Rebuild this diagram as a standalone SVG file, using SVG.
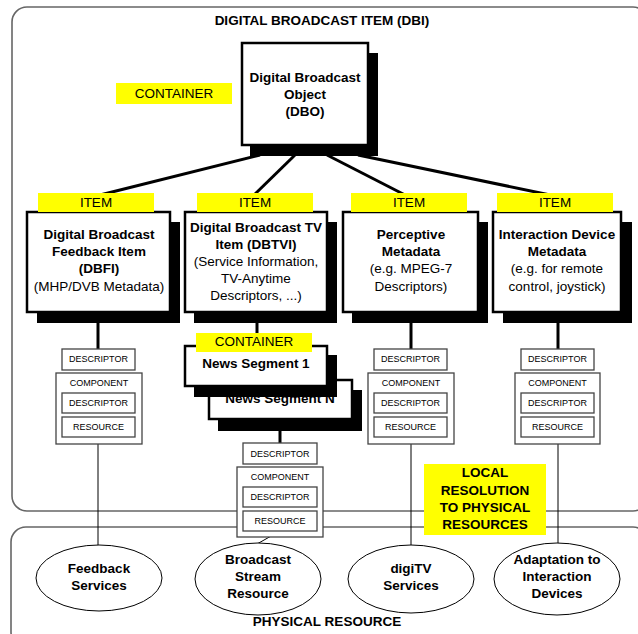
<svg xmlns="http://www.w3.org/2000/svg" width="638" height="634" viewBox="0 0 638 634">
<style>
text{font-family:"Liberation Sans",Arial,sans-serif;fill:#000;text-anchor:middle}
.b{font-weight:bold;font-size:13.5px}
.r{font-size:13.5px}
.s{font-size:9px}
.frame{fill:none;stroke:#666;stroke-width:1.6}
.box{fill:#fff;stroke:#000;stroke-width:2.5}
.sh{fill:#000}
.lab{fill:#ffff00}
.sb{fill:#fff;stroke:#444;stroke-width:1.3}
.ell{fill:#fff;stroke:#000;stroke-width:1}
.thick{stroke:#000;stroke-width:3;fill:none}
.thin{stroke:#000;stroke-width:1;fill:none}
</style>
<rect width="638" height="634" fill="#fff"/>
<g id="dbi-frame">
<rect class="frame" x="12" y="7" width="636" height="504" rx="15"/>
<text class="b" x="322" y="25">DIGITAL BROADCAST ITEM (DBI)</text>
</g>
<g id="physical-frame">
<rect class="frame" x="11" y="527" width="637" height="120" rx="15"/>
<text class="b" x="327" y="626">PHYSICAL RESOURCE</text>
</g>
<g id="connectors">
<line class="thick" x1="260" y1="155" x2="96" y2="196"/>
<line class="thick" x1="295" y1="155" x2="253" y2="196"/>
<line class="thick" x1="327" y1="155" x2="407" y2="196"/>
<line class="thick" x1="358" y1="155" x2="555" y2="196"/>
<line class="thick" x1="98" y1="320" x2="98" y2="350"/>
<line class="thick" x1="257" y1="320" x2="257" y2="335"/>
<line class="thick" x1="411" y1="320" x2="411" y2="350"/>
<line class="thick" x1="558" y1="320" x2="558" y2="350"/>
<line class="thick" x1="280" y1="428" x2="280" y2="444"/>
<line class="thin" x1="98" y1="437" x2="98" y2="546"/>
<line class="thin" x1="411" y1="437" x2="411" y2="546"/>
<line class="thin" x1="558" y1="437" x2="558" y2="544"/>
<line class="thin" x1="280" y1="531" x2="257" y2="544"/>
</g>
<g id="dbo">
<rect class="sh" x="250" y="53" width="128" height="103"/>
<rect class="box" x="242" y="43" width="126" height="102"/>
<text class="b" x="305" y="82">Digital Broadcast</text>
<text class="b" x="305" y="99">Object</text>
<text class="b" x="305" y="116">(DBO)</text>
</g>
<g id="container-label">
<rect class="lab" x="116" y="83" width="116" height="21"/>
<text class="r" x="174" y="98">CONTAINER</text>
</g>
<g id="dbfi">
<rect class="sh" x="37" y="222" width="143" height="101"/>
<rect class="box" x="27" y="212" width="143" height="100"/>
<rect class="lab" x="38" y="193" width="116" height="19"/>
<text class="r" x="96" y="207">ITEM</text>
<text class="b" x="99" y="239">Digital Broadcast</text>
<text class="b" x="99" y="256">Feedback Item</text>
<text class="b" x="99" y="273">(DBFI)</text>
<text class="r" x="99" y="291">(MHP/DVB Metadata)</text>
</g>
<g id="dbtvi">
<rect class="sh" x="194" y="222" width="143" height="101"/>
<rect class="box" x="185" y="212" width="142" height="100"/>
<rect class="lab" x="197" y="193" width="116" height="19"/>
<text class="r" x="255" y="207">ITEM</text>
<text class="b" x="256" y="232">Digital Broadcast TV</text>
<text class="b" x="256" y="249">Item (DBTVI)</text>
<text class="r" x="256" y="266">(Service Information,</text>
<text class="r" x="256" y="283">TV-Anytime</text>
<text class="r" x="256" y="300">Descriptors, ...)</text>
</g>
<g id="perceptive">
<rect class="sh" x="352" y="222" width="136" height="101"/>
<rect class="box" x="343" y="212" width="135" height="100"/>
<rect class="lab" x="351" y="193" width="116" height="19"/>
<text class="r" x="409" y="207">ITEM</text>
<text class="b" x="411" y="239">Perceptive</text>
<text class="b" x="411" y="256">Metadata</text>
<text class="r" x="411" y="273">(e.g. MPEG-7</text>
<text class="r" x="411" y="291">Descriptors)</text>
</g>
<g id="interaction">
<rect class="sh" x="503" y="222" width="129" height="101"/>
<rect class="box" x="493" y="212" width="128" height="100"/>
<rect class="lab" x="497" y="193" width="116" height="19"/>
<text class="r" x="555" y="207">ITEM</text>
<text class="b" x="557" y="239">Interaction Device</text>
<text class="b" x="557" y="256">Metadata</text>
<text class="r" x="557" y="273">(e.g. for remote</text>
<text class="r" x="557" y="291">control, joystick)</text>
</g>
<g id="news-segment-n">
<rect class="sh" x="218" y="390" width="144" height="41"/>
<rect class="box" x="209" y="380" width="143" height="39"/>
<text class="b" x="280" y="403">News Segment N</text>
</g>
<g id="news-segment-1">
<rect class="sh" x="194" y="355" width="143" height="42"/>
<rect class="box" x="185" y="346" width="142" height="40"/>
<text class="b" x="256" y="368">News Segment 1</text>
<rect class="lab" x="196" y="333" width="116" height="19"/>
<text class="r" x="254" y="346">CONTAINER</text>
</g>
<g id="resources-dbfi">
<rect class="sb" x="62" y="349" width="73" height="21"/>
<text class="s" x="98.5" y="362">DESCRIPTOR</text>
<rect class="sb" x="56" y="373" width="86" height="71"/>
<text class="s" x="99" y="386">COMPONENT</text>
<rect class="sb" x="62" y="393" width="73" height="20"/>
<text class="s" x="98.5" y="406">DESCRIPTOR</text>
<rect class="sb" x="62" y="417" width="73" height="20"/>
<text class="s" x="98.5" y="430">RESOURCE</text>
</g>
<g id="resources-news">
<rect class="sb" x="243" y="443" width="74" height="21"/>
<text class="s" x="280" y="457">DESCRIPTOR</text>
<rect class="sb" x="237" y="467" width="86" height="70"/>
<text class="s" x="280" y="480">COMPONENT</text>
<rect class="sb" x="243" y="487" width="74" height="20"/>
<text class="s" x="280" y="500">DESCRIPTOR</text>
<rect class="sb" x="243" y="511" width="74" height="20"/>
<text class="s" x="280" y="524">RESOURCE</text>
</g>
<g id="resources-perceptive">
<rect class="sb" x="374" y="349" width="73" height="21"/>
<text class="s" x="410.5" y="362">DESCRIPTOR</text>
<rect class="sb" x="368" y="373" width="86" height="71"/>
<text class="s" x="411" y="386">COMPONENT</text>
<rect class="sb" x="374" y="393" width="73" height="20"/>
<text class="s" x="410.5" y="406">DESCRIPTOR</text>
<rect class="sb" x="374" y="417" width="73" height="20"/>
<text class="s" x="410.5" y="430">RESOURCE</text>
</g>
<g id="resources-interaction">
<rect class="sb" x="521" y="349" width="73" height="21"/>
<text class="s" x="557.5" y="362">DESCRIPTOR</text>
<rect class="sb" x="515" y="373" width="85" height="71"/>
<text class="s" x="557.5" y="386">COMPONENT</text>
<rect class="sb" x="521" y="393" width="73" height="20"/>
<text class="s" x="557.5" y="406">DESCRIPTOR</text>
<rect class="sb" x="521" y="417" width="73" height="20"/>
<text class="s" x="557.5" y="430">RESOURCE</text>
</g>
<g id="local-resolution">
<rect class="lab" x="424" y="464" width="122" height="71"/>
<text class="b" x="485" y="477">LOCAL</text>
<text class="b" x="485" y="495">RESOLUTION</text>
<text class="b" x="485" y="512">TO PHYSICAL</text>
<text class="b" x="485" y="529">RESOURCES</text>
</g>
<g id="feedback-services">
<ellipse class="ell" cx="99" cy="578" rx="63" ry="33"/>
<text class="b" x="99" y="573">Feedback</text>
<text class="b" x="99" y="590">Services</text>
</g>
<g id="broadcast-stream">
<ellipse class="ell" cx="258" cy="579" rx="63" ry="36"/>
<text class="b" x="258" y="564">Broadcast</text>
<text class="b" x="258" y="581">Stream</text>
<text class="b" x="258" y="598">Resource</text>
</g>
<g id="digitv-services">
<ellipse class="ell" cx="411" cy="579" rx="63" ry="34"/>
<text class="b" x="411" y="573">digiTV</text>
<text class="b" x="411" y="590">Services</text>
</g>
<g id="adaptation">
<ellipse class="ell" cx="557" cy="579" rx="63" ry="36"/>
<text class="b" x="557" y="564">Adaptation to</text>
<text class="b" x="557" y="581">Interaction</text>
<text class="b" x="557" y="598">Devices</text>
</g>
</svg>
